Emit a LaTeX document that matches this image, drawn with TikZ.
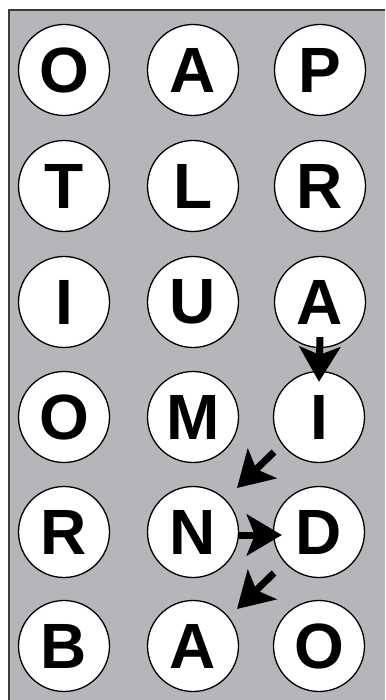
\documentclass[tikz,border=0pt]{standalone}
\usepackage{fontspec}
\setmainfont{Liberation Sans}
\usetikzlibrary{arrows.meta}
\definecolor{panelgray}{RGB}{181,182,186}
\definecolor{framegray}{RGB}{60,60,60}

\tikzset{
  letter/.style={circle,draw=black,line width=1.3pt,fill=white,minimum size=91pt,inner sep=0pt,
    font=\fontsize{64}{64}\selectfont\bfseries},
  pathto/.style={line width=7pt,-{Stealth[length=35pt,width=41pt,inset=8pt]}}
}

\begin{document}
\begin{tikzpicture}[x=1pt,y=-1pt]
 \useasboundingbox (0,0) rectangle (385,700);
 \fill[panelgray] (9,10) rectangle (385,700);
 \draw[framegray,line width=2pt] (9,700) -- (9,10) -- (385,10);

 \node[letter] (X11) at (64,70) {O};
 \node[letter] (X12) at (193,70) {A};
 \node[letter] (X13) at (320,70) {P};
 \node[letter] (X21) at (64,186) {T};
 \node[letter] (X22) at (193,186) {L};
 \node[letter] (X23) at (320,186) {R};
 \node[letter] (X31) at (64,302) {I};
 \node[letter] (X32) at (193,302) {U};
 \node[letter] (X33) at (320,302) {A};
 \node[letter] (X41) at (64,417) {O};
 \node[letter] (X42) at (193,417) {M};
 \node[letter] (X43) at (319,417) {I};
 \node[letter] (X51) at (64,532) {R};
 \node[letter] (X52) at (193,532) {N};
 \node[letter] (X53) at (319,532) {D};
 \node[letter] (X61) at (64,646) {B};
 \node[letter] (X62) at (193,646) {A};
 \node[letter] (X63) at (319,646) {O};

 \coordinate (P1) at (274,452);
 \coordinate (P2) at (237,488);
 \coordinate (P3) at (274,573);
 \coordinate (P4) at (237,609);

 \draw [pathto] ([yshift=11pt]X33.south) -- ([yshift=-11pt]X43.north);
 \draw [pathto] (P1) -- (P2);
 \draw [pathto] ([yshift=-3pt]X52.east) -- ([xshift=9pt,yshift=-3pt]X53.west);
 \draw [pathto] (P3) -- (P4);
\end{tikzpicture}
\end{document}
